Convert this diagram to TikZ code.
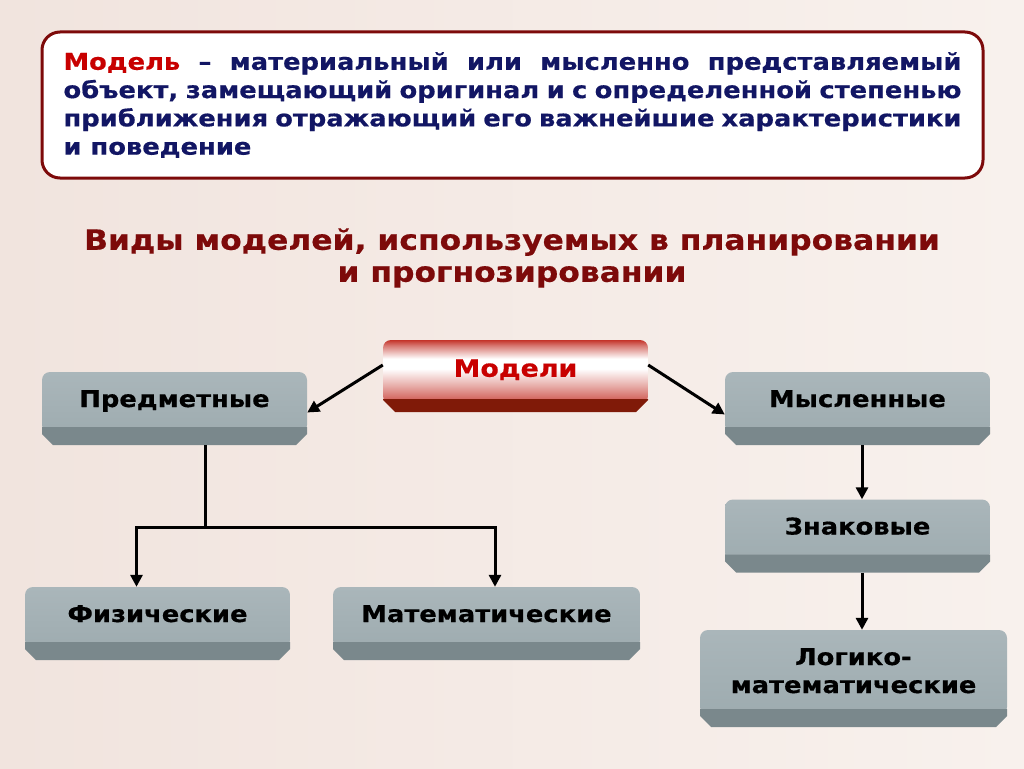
\documentclass[tikz,border=0pt]{standalone}
\usepackage{fontspec}
\setmainfont{DejaVu Sans}[BoldFeatures={FakeStretch=1.12,FakeBold=0.5}]
\usetikzlibrary{calc,arrows.meta}
\definecolor{bgA}{RGB}{241,228,222}
\definecolor{bgB}{RGB}{248,241,237}
\definecolor{navy}{RGB}{18,22,100}
\definecolor{redtxt}{RGB}{200,0,0}
\definecolor{titlered}{RGB}{125,10,10}
\definecolor{borderred}{RGB}{125,10,10}
\definecolor{greytop}{RGB}{170,182,186}
\definecolor{greybot}{RGB}{156,170,174}
\definecolor{greystrip}{RGB}{122,136,140}
\definecolor{modred}{RGB}{196,52,42}
\definecolor{modstrip}{RGB}{128,26,8}
\pgfdeclareverticalshading{modshade}{100bp}{color(0bp)=(modred); color(29bp)=(modred); color(34bp)=(modred!75!white); color(44bp)=(modred!38!white); color(55bp)=(white); color(62bp)=(white); color(71bp)=(modred!65!white); color(75bp)=(modred); color(100bp)=(modred)}
\tikzset{
  conn/.style={line width=3pt, draw=black},
  arr/.style={conn, -{Triangle[length=12pt,width=12pt]}},
  greybox/.style={minimum width=265pt, minimum height=73pt, inner sep=0pt,
    font=\bfseries\fontsize{23}{28}\selectfont, text=black, align=center,
    text height=17pt, text depth=20pt,
    path picture={
      \shade[top color=greytop, bottom color=greybot, rounded corners=8pt]
        let \p1=(path picture bounding box.south west), \p2=(path picture bounding box.north east) in
        (\x1,\y1+12pt) rectangle (\x2,\y2);
      \fill[greystrip]
        let \p1=(path picture bounding box.south west), \p2=(path picture bounding box.north east) in
        (\x1,\y1+18pt) -- (\x2,\y1+18pt) -- (\x2,\y1+11pt) -- (\x2-11pt,\y1) -- (\x1+11pt,\y1) -- (\x1,\y1+11pt) -- cycle;
    }},
  modbox/.style={minimum width=265pt, minimum height=72pt, inner sep=0pt,
    font=\bfseries\fontsize{24}{28}\selectfont, text=redtxt,
    text height=17.5pt, text depth=16pt,
    path picture={
      \shade[shading=modshade, rounded corners=8pt]
        let \p1=(path picture bounding box.south west), \p2=(path picture bounding box.north east) in
        (\x1,\y1+8pt) rectangle (\x2,\y2);
      \fill[modstrip]
        let \p1=(path picture bounding box.south west), \p2=(path picture bounding box.north east) in
        (\x1,\y1+13pt) -- (\x2,\y1+13pt) -- (\x2,\y1+12pt) -- (\x2-12pt,\y1) -- (\x1+12pt,\y1) -- (\x1,\y1+12pt) -- cycle;
    }},
  defbox/.style={draw=borderred, line width=3pt, fill=white, rounded corners=18pt,
    minimum width=941pt, minimum height=146pt, inner sep=0pt,
    text width=898pt, align=justify, text=navy,
    font=\bfseries\fontsize{23}{28.3}\selectfont},
  titletext/.style={align=center, text=titlered, font=\bfseries\fontsize{28}{32}\selectfont}
}
\begin{document}
\begin{tikzpicture}[x=1pt,y=-1pt]
\useasboundingbox (0,0) rectangle (1024,768);
\shade[left color=bgA, right color=bgB] (0,0) rectangle (1024,768);

\node[defbox] (def) at (512.5,105) {\tolerance=9999\textcolor{redtxt}{Модель} – материальный или мысленно представляемый\linebreak объект, замещающий оригинал и с определенной степенью\linebreak приближения отражающий его важнейшие характеристики\linebreak и поведение};

\node[titletext] (title) at (512,258) {Виды моделей, используемых в планировании\\и прогнозировании};

\node[modbox] (model) at (515.5,376) {Модели};
\node[greybox] (pred) at (174.5,408.5) {Предметные};
\node[greybox] (mysl) at (857.5,408.5) {Мысленные};
\node[greybox] (znak) at (857.5,536) {Знаковые};
\node[greybox] (fiz) at (157.5,623.5) {Физические};
\node[greybox, minimum width=307pt] (mat) at (486.5,623.5) {Математические};
\node[greybox, minimum width=307pt, minimum height=97pt, text height=45pt, text depth=16pt] (logic) at (853.5,678.5) {Логико-\\математические};

\draw[arr] ([yshift=11pt]model.west) -- ([yshift=-4pt]pred.east);
\draw[arr] ([yshift=11pt]model.east) -- ([yshift=-6pt]mysl.west);
\draw[arr] ([xshift=4.5pt]mysl.south) -- ([xshift=4.5pt]znak.north);
\draw[arr] ([xshift=4.5pt]znak.south) -- ([xshift=4.5pt]znak.south |- logic.north);
\coordinate (split) at ($(pred.south)+(30.5pt,-82pt)$);
\draw[conn] ([xshift=30.5pt]pred.south) -- (split);
\draw[arr] (split) -| ([xshift=-21pt]fiz.north);
\draw[arr] (split) -| ([xshift=8.5pt]mat.north);
\end{tikzpicture}
\end{document}
